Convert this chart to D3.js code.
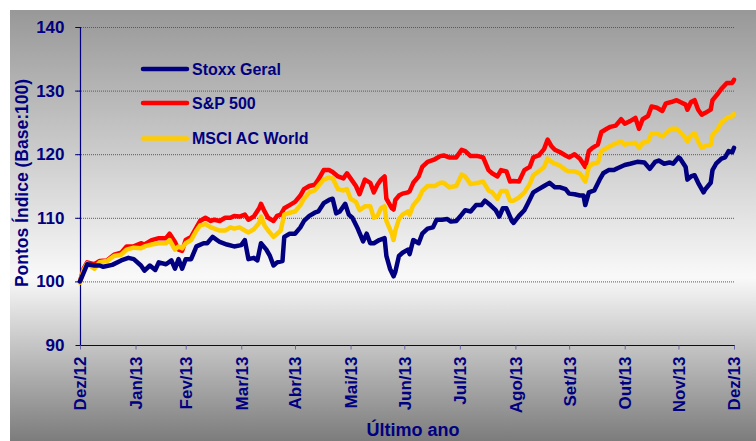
<!DOCTYPE html>
<html><head><meta charset="utf-8">
<script src="https://cdn.jsdelivr.net/npm/d3@7"></script>
<style>html,body{margin:0;padding:0;background:#fff;}svg{display:block;}</style>
</head><body>
<script>
// ---- data (days since 2012-12-31) ----
const seriesNames = ["Stoxx Geral", "S&P 500", "MSCI AC World"];
const seriesColors = ["#000080", "#ff0000", "#ffcc00"];
const stoxxDays = [0,3,4,8,11,13,18,23,27,30,34,36,39,42,44,48,51,53,55,57,59,62,65,69,71,74,78,82,86,90,92,94,97,99,101,104,106,108,110,113,114,117,120,123,125,128,131,133,136,139,141,143,145,148,150,152,155,158,160,162,164,167,170,171,173,175,176,178,180,183,184,186,189,191,194,197,199,202,205,207,210,213,215,218,221,224,226,229,232,234,236,238,241,242,245,248,250,253,256,259,262,265,268,271,273,276,279,281,282,284,287,290,292,295,298,300,304,307,311,315,318,321,323,326,329,331,334,335,338,339,341,343,345,348,349,352,353,355,358,360,362,364,365];
const stoxxVals = [100,102,102.7,102.5,102.5,102.3,102.6,103.3,103.7,103.5,102.5,101.7,102.5,101.8,103,102.7,103.3,102,103.5,102,103.5,103.5,105.5,106,106,107,106.2,105.8,105.5,105.7,106.5,103.5,103.7,103.3,106,105,104,102.5,103,103.2,107,107.5,107.5,108.5,109.5,110.3,110.8,111,112.3,112.8,113,110.7,111,112.2,110.5,110,108.3,106.3,107.5,106,106,106.5,106.8,104,102,100.8,101.5,104,104.5,105,104.3,106.5,106,107.5,108.3,108.5,109.7,109.7,109.8,109.4,109.5,110.5,111.2,111,112,112,112.7,112,111.2,110.2,111.5,111.5,109.5,109.2,110.3,111.2,112.3,114,114.5,115,115.5,114.8,114.8,114.5,113.8,113.7,113.5,113.5,112,114,114.3,116,117,117.5,117.5,117.8,118.3,118.5,118.8,118.7,117.7,118.8,119,118.5,118.7,118.5,119.5,119.3,118,116,116.5,116.7,115.5,114,114.5,115.5,117.5,118.5,119.3,119.5,120.5,120.3,121];
const usDays = [0,2,4,8,11,15,19,23,26,30,34,36,40,44,48,50,53,55,57,59,62,65,67,70,73,75,78,81,84,86,89,92,94,97,100,101,103,105,108,110,112,114,117,120,123,125,128,131,133,136,139,141,144,147,149,151,154,156,159,162,164,166,168,170,171,174,175,176,178,180,183,184,186,189,191,194,198,201,203,206,210,213,215,218,222,225,228,230,233,235,238,240,242,245,248,251,253,256,259,261,263,265,268,271,273,276,279,282,284,286,289,291,294,296,299,302,304,307,310,312,314,317,319,322,325,327,330,333,335,338,339,341,343,345,347,349,352,353,356,358,361,364,365];
const spVals = [100,102,103,102.7,103.2,103.3,104.2,104.5,105.5,105.5,106,105.8,106.5,106.8,106.8,107.5,106.2,105,104.8,106.5,107,108.5,109.5,110,109.5,109.7,109.5,110,110,110.3,110.2,110.5,109.7,110.2,111.5,112.2,111,110,109.5,110.3,110.5,111.5,112,112.5,113.5,114.5,115,115.2,116,117.5,117.5,117.2,116.5,116.2,117,116.2,115,113.7,116,115.5,114,115.2,116,116.5,113,111.5,111.3,112.8,113.5,113.8,114,114.2,115.5,116.5,118,118.8,119.2,119.7,119.8,119.5,119.5,120.7,120.5,119.7,119.7,119.5,117.5,117,116.5,117.5,117.3,115.7,115.8,115.7,117.5,118,119.5,119.8,120.8,122.3,121.3,120.7,120.3,119.8,119.5,120,119.3,118,120.5,121,121.5,123.5,124,124.3,124.5,125.5,124.8,125.2,125.7,124,125.5,126,127.5,127.3,126.8,128,128.2,128.5,128.2,127.8,127,128.2,128.5,127,126.2,126.5,127,128.5,129.5,130.3,131.2,131.2,131.7];
const msciVals = [99.8,101.8,102.8,102,103,103.2,104,104.2,105,105.3,105.2,105.5,105.8,106,106,106.5,105,105.5,105.2,106,106.5,108,108.8,109,108.5,108.3,108,108,108.5,108.3,108.5,108,107.7,108.2,109.2,110.2,108.8,108,107,107.5,108,110.5,110.8,111,112,113,114,114.3,115,116,116.3,116.2,114.5,114.3,114.5,113,112.5,111.2,111.8,111.8,110,110.3,111.5,111.8,109.5,107.5,106.5,108,109.8,110.5,111,110.5,112,113,114.2,115,115,115.5,115.5,114.8,115,116.8,116.5,115.3,115.5,115.7,114.3,114,113,114.2,114.2,112.7,112.7,113.2,114,115.3,116.7,117.3,118,119.3,118.8,118.5,118.2,117.5,117.3,117.3,117,115.7,118,118.5,118.7,120.5,121,121.3,121.7,122,121.5,121.7,121.8,121,121.8,122,123.3,123.3,122.8,123.3,124,124,123.5,122.5,122,123,123.3,122,121,121.3,121.5,123,124,125,125.7,126,126.3];
const yTicks = [90,100,110,120,130,140];
const xTickLabels = ["Dez/12","Jan/13","Fev/13","Mar/13","Abr/13","Mai/13","Jun/13","Jul/13","Ago/13","Set/13","Out/13","Nov/13","Dez/13"];
const yTitle = "Pontos Índice (Base:100)";
const xTitle = "Último ano";

// ---- layout ----
const W = 756, H = 441;
const M = {left: 80, right: 734, top: 27, bottom: 345};
const base = new Date(2012, 11, 31);
const toDate = d => new Date(2012, 11, 31 + d);
const tickDates = xTickLabels.map((_, i) => new Date(2012, 12 + i, 0));

const svg = d3.select("body").append("svg").attr("width", W).attr("height", H);
const defs = svg.append("defs");
const g = defs.append("linearGradient").attr("id", "bg").attr("x1", 0).attr("y1", 0).attr("x2", 0).attr("y2", 1);
g.append("stop").attr("offset", "0%").attr("stop-color", "#989898");
g.append("stop").attr("offset", "62%").attr("stop-color", "#f9f9f9");
g.append("stop").attr("offset", "100%").attr("stop-color", "#7c7c7c");
svg.append("rect").attr("x", 10).attr("y", 10).attr("width", W - 10).attr("height", H - 10).attr("fill", "url(#bg)");

const x = d3.scaleTime().domain([base, new Date(2013, 11, 31)]).range([M.left, M.right]);
const y = d3.scaleLinear().domain([90, 140]).range([M.bottom, M.top]);

// gridlines
svg.append("g").selectAll("line").data(yTicks.filter(v => v > 90)).join("line")
  .attr("x1", M.left - 5).attr("x2", M.right + 1)
  .attr("y1", d => y(d) + 0.5).attr("y2", d => y(d) + 0.5)
  .attr("stroke", "#5050a8").attr("stroke-width", 1).attr("stroke-dasharray", "1,1");

// y axis
const yAxis = svg.append("g").attr("transform", `translate(${M.left + 0.5},0)`)
  .call(d3.axisLeft(y).tickValues(yTicks).tickSize(5).tickPadding(11).tickFormat(d3.format("d")));
yAxis.select(".domain").attr("stroke", "#000080").attr("stroke-width", 1.2).attr("d", `M0,${M.top}V${M.bottom}`);
yAxis.selectAll(".tick line").attr("stroke", "#000080");
yAxis.selectAll("text").attr("fill", "#000080").style("font", "bold 17px 'Liberation Sans', Arial, sans-serif");

// x axis
const xAxis = svg.append("g").attr("transform", `translate(0,${M.bottom + 0.5})`)
  .call(d3.axisBottom(x).tickValues(tickDates).tickSize(4).tickFormat((d, i) => xTickLabels[i]));
xAxis.select(".domain").attr("stroke", "#000080").attr("stroke-width", 1.2).attr("d", `M${M.left},0H${M.right + 1}`);
xAxis.selectAll(".tick line").attr("stroke", "#6a6aa8");
xAxis.selectAll("text").attr("fill", "#000080")
  .style("font", "bold 17px 'Liberation Sans', Arial, sans-serif")
  .attr("transform", "rotate(-90)").attr("text-anchor", "end")
  .attr("x", -11).attr("y", 0).attr("dy", "0.35em");

// lines
const line = d3.line().x(d => x(toDate(d[0]))).y(d => y(d[1]));
const series = [
  {days: usDays, vals: msciVals, color: seriesColors[2]},
  {days: usDays, vals: spVals, color: seriesColors[1]},
  {days: stoxxDays, vals: stoxxVals, color: seriesColors[0]}
];
// draw order: S&P, MSCI, Stoxx
[series[1], series[0], series[2]].forEach(s => {
  svg.append("path").datum(s.days.map((d, i) => [d, s.vals[i]]))
    .attr("d", line).attr("fill", "none").attr("stroke", s.color)
    .attr("stroke-width", 4.5).attr("stroke-linejoin", "round").attr("stroke-linecap", "round");
});

// legend
const legY = [69, 103, 138.5];
const leg = svg.append("g");
seriesNames.forEach((n, i) => {
  leg.append("line").attr("x1", 143).attr("x2", 187).attr("y1", legY[i]).attr("y2", legY[i])
    .attr("stroke", seriesColors[i]).attr("stroke-width", 4.5).attr("stroke-linecap", "round");
  leg.append("text").attr("x", 192).attr("y", legY[i]).attr("dy", "0.35em")
    .attr("fill", "#000080").style("font", "bold 16px 'Liberation Sans', Arial, sans-serif").text(n);
});

// titles
svg.append("text").attr("transform", `translate(28,${(M.top + M.bottom) / 2 - 3}) rotate(-90)`)
  .attr("text-anchor", "middle").attr("fill", "#000080")
  .style("font", "bold 17.5px 'Liberation Sans', Arial, sans-serif").text(yTitle);
svg.append("text").attr("x", 413).attr("y", 436).attr("text-anchor", "middle").attr("fill", "#000080")
  .style("font", "bold 18px 'Liberation Sans', Arial, sans-serif").text(xTitle);
</script>
</body></html>
